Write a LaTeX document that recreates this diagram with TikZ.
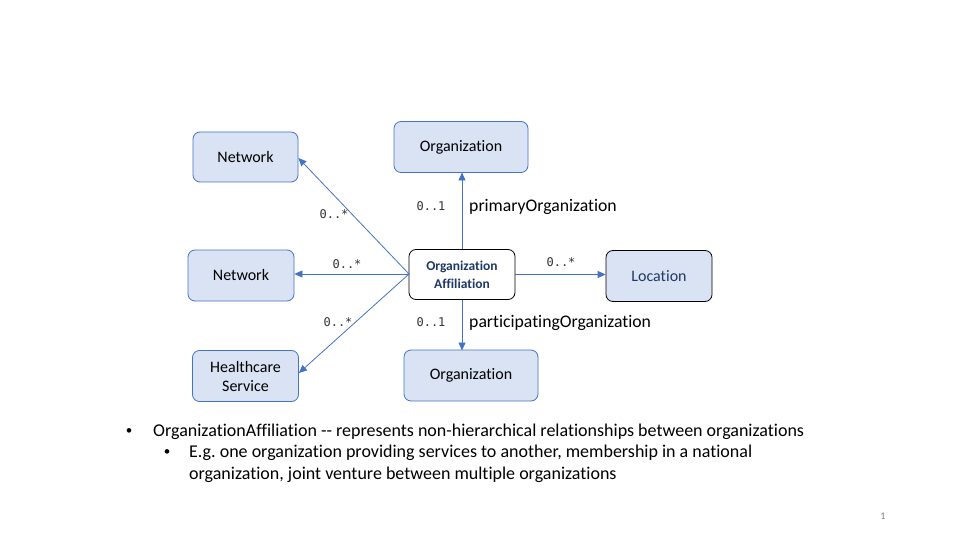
\documentclass[tikz,border=0pt]{standalone}
\usepackage{fontspec}
\setmainfont{Carlito}[Ligatures={NoCommon,NoContextual}]
\newfontfamily\monof{DejaVu Sans Mono}
\usetikzlibrary{arrows.meta}
\definecolor{boxfill}{HTML}{DAE3F3}
\definecolor{boxline}{HTML}{4472C4}
\definecolor{navy}{HTML}{1F3864}
\frenchspacing
\tikzset{
  cls/.style={draw=boxline, fill=boxfill, rounded corners=7pt, line width=0.8pt, inner sep=0pt, font=\fontsize{16}{19}\selectfont, align=center},
  conn/.style={draw=boxline, line width=0.8pt, -{Triangle[length=8pt,width=7pt]}},
  mult/.style={font=\monof\fontsize{12}{14}\selectfont, text=black!80, inner sep=0pt},
  role/.style={font=\fontsize{17.7}{20}\selectfont, inner sep=0pt, anchor=west},
  bul/.style={font=\fontsize{18}{20}\selectfont, inner sep=0pt, anchor=west, align=left},
  dot/.style={font=\fontsize{13}{15}\selectfont, inner sep=0pt}
}
\begin{document}
\begin{tikzpicture}[x=1pt,y=-1pt]
\useasboundingbox (0,0) rectangle (960,540);
\fill[white] (0,0) rectangle (960,540);
% boxes
\node[cls, minimum width=105pt, minimum height=50pt] (net1) at (245.5,157) {Network};
\node[cls, minimum width=134pt, minimum height=51pt] (orgtop) at (461,147) {Organization};
\node[cls, minimum width=106pt, minimum height=51pt] (net2) at (241,275.5) {Network};
\node[draw=black, fill=white, rounded corners=7pt, line width=0.8pt, minimum width=106pt, minimum height=50pt, align=center, text=navy, font=\bfseries\fontsize{13.5}{18}\selectfont] (oa) at (462,274.5) {Organization\\Affiliation};
\node[draw=black, fill=boxfill, rounded corners=7pt, line width=0.8pt, minimum width=106pt, minimum height=51pt, text=navy, font=\fontsize{16}{19}\selectfont] (loc) at (659,276) {Location};
\node[cls, minimum width=106pt, minimum height=51pt] (hs) at (245.5,376) {Healthcare\\Service};
\node[cls, minimum width=134pt, minimum height=51pt] (orgbot) at (471,375.5) {Organization};
% connectors
\coordinate (oaw) at (409,274);
\draw[conn] (oaw) -- (net1.east |- 0,158);
\draw[conn] (oaw) -- (net2.east |- 0,274);
\draw[conn] (oaw) -- (hs.east |- 0,373);
\draw[conn] (oa.east) -- (loc.west |- oa.east);
\draw[conn] (462,249) -- (462,172.5);
\draw[conn] (462,299.5) -- (462,350.5);
% multiplicities
\node[mult] (m1) at (334,214) {0..*};
\node[mult] (m2) at (347,264) {0..*};
\node[mult] (m3) at (338,322) {0..*};
\node[mult] (m4) at (561,262) {0..*};
\node[mult] (m5) at (431,206.5) {0..1};
\node[mult] (m6) at (431,322.5) {0..1};
\node[role] (r1) at (469,207) {primaryOrganization};
\node[role] (r2) at (469,323) {participatingOrganization};
% bullets
\node[dot] (b1d) at (129,432) {•};
\node[bul] (b1) at (153,432) {OrganizationAffiliation -{}- represents non-hierarchical relationships between organizations};
\node[dot] (b2d) at (167,453) {•};
\node[bul] (b2) at (189,453) {E.g. one organization providing services to another, membership in a national};
\node[bul] (b3) at (189,475) {organization, joint venture between multiple organizations};
\node[font=\fontsize{10}{12}\selectfont, text=black!50, inner sep=0pt] (pg) at (883,516) {1};
\end{tikzpicture}
\end{document}
